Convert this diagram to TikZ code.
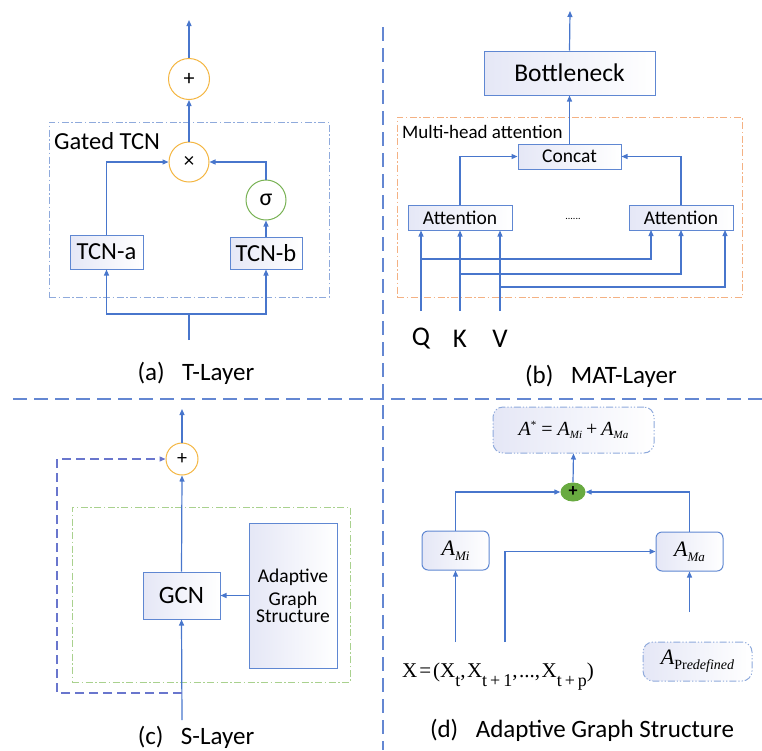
\documentclass[tikz,border=0pt]{standalone}
\usepackage{fontspec}
\setmainfont{Carlito}
\newfontfamily\tms{Liberation Serif}
\usetikzlibrary{arrows.meta,shapes.geometric}
\definecolor{lineblue}{RGB}{72,118,204}
\definecolor{boxblue}{RGB}{95,135,210}
\definecolor{boxfill}{RGB}{229,231,246}
\definecolor{circorange}{RGB}{244,182,66}
\definecolor{circgreen}{RGB}{120,178,84}
\definecolor{dashblue}{RGB}{143,170,220}
\definecolor{dashorange}{RGB}{244,177,131}
\definecolor{dashgreen}{RGB}{169,209,142}
\definecolor{sepblue}{RGB}{100,135,210}
\definecolor{fbblue}{RGB}{105,118,205}
\definecolor{gfill}{RGB}{104,170,64}
\newcommand\fsz[1]{\fontsize{#1}{#1}\selectfont}
\tikzset{
  x=1pt,y=-1pt,
  conn/.style={draw=lineblue, line width=1.2pt, -{Triangle[length=6pt,width=5pt]}},
  plainline/.style={draw=lineblue, line width=1.2pt},
  boxnode/.style={draw=boxblue, line width=1pt, left color=boxfill, right color=white, inner sep=0pt, align=center},
  rboxnode/.style={boxnode, rounded corners=6pt},
  ocirc/.style={circle, draw=circorange, line width=1pt, fill=white, inner sep=0pt},
  gcirc/.style={circle, draw=circgreen, line width=1pt, fill=white, inner sep=0pt},
  dd/.style={dash pattern=on 7pt off 2.5pt on 1.5pt off 2.5pt},
  ddd/.style={dash pattern=on 7pt off 2pt on 1.2pt off 2pt on 1.2pt off 2pt},
  sepline/.style={draw=sepblue, line width=1.2pt, dash pattern=on 14pt off 7pt},
  captxt/.style={font=\fsz{25}},
}
\begin{document}
\begin{tikzpicture}
\useasboundingbox (0,0) rectangle (762,750);
% separators
\coordinate (vt) at (383,27);
\coordinate (vb) at (383,750);
\coordinate (hl) at (13,399);
\coordinate (hr) at (762,399);
\draw[sepline] (vt) -- (vb);
\draw[sepline] (hl) -- (hr);

% ---------- (a) T-Layer
\node[draw=dashblue, line width=1pt, dd, minimum width=280, minimum height=175, inner sep=0pt] (gated) at (189,209.5) {};
\node[anchor=west, font=\fsz{24.5}, inner sep=0pt] (gatedlbl) at (54,141) {Gated TCN};
\node[ocirc, minimum size=41, font=\fsz{22}] (pa) at (189,79) {+};
\node[ocirc, minimum size=40, font=\fsz{21}] (times) at (189,162) {×};
\node[gcirc, minimum size=40, font=\fsz{24}] (sig) at (266,200) {σ};
\node[boxnode, minimum width=73, minimum height=34, font=\fsz{24.5}] (tcna) at (106.5,252) {TCN-a};
\node[boxnode, minimum width=72, minimum height=32, font=\fsz{24.5}] (tcnb) at (266,253) {TCN-b};
\coordinate (aout) at (189,20);
\coordinate (ain) at (189,340);
\coordinate (asplit) at (189,314);
\draw[conn] (pa.north) -- (aout);
\draw[conn] (times.north) -- (pa.south);
\draw[conn] (tcna.north) |- (times.west);
\draw[conn] (sig.north) |- (times.east);
\draw[conn] (tcnb.north) -- (sig.south);
\draw[plainline] (ain) -- (asplit);
\draw[conn] (asplit) -| (tcna.south);
\draw[conn] (asplit) -| (tcnb.south);
\node[captxt] (capa) at (196,373) {(a)\hspace{0.7em}T-Layer};

% ---------- (b) MAT-Layer
\node[draw=dashorange, line width=1pt, dd, minimum width=345, minimum height=180, inner sep=0pt] (mha) at (569.5,207) {};
\node[anchor=west, font=\fsz{19}, inner sep=0pt] (mhalbl) at (402,132) {Multi-head attention};
\node[boxnode, minimum width=171, minimum height=44, font=\fsz{25.5}] (bott) at (569.5,73) {Bottleneck};
\node[boxnode, minimum width=103, minimum height=25, font=\fsz{19.5}] (concat) at (569.5,156.5) {Concat};
\node[boxnode, minimum width=104, minimum height=25, font=\fsz{19.5}] (att1) at (460,217.5) {Attention};
\node[boxnode, minimum width=104, minimum height=25, font=\fsz{19.5}] (att2) at (681,217.5) {Attention};
\node[font=\fsz{10}, inner sep=0pt] (dots) at (573,219) {......};
\node[font=\fsz{27}, inner sep=0pt] (q) at (421,339) {Q};
\node[font=\fsz{27}, inner sep=0pt] (k) at (460,339) {K};
\node[font=\fsz{27}, inner sep=0pt] (v) at (500,339) {V};
\coordinate (bout) at (570,11);
\coordinate (qb) at (421,311);
\coordinate (kb) at (460,311);
\coordinate (vb2) at (500,311);
\coordinate (qj) at (421,259);
\coordinate (kj) at (460,274);
\coordinate (vj) at (500,287);
\coordinate (qa2) at (651,230);
\coordinate (ka2) at (681,230);
\coordinate (va2) at (725,230);
\draw[conn] (bott.north) -- (bout);
\draw[conn] (concat.north) -- (bott.south);
\draw[conn] (att1.north) |- (concat.west);
\draw[conn] (att2.north) |- (concat.east);
\draw[conn] (qb) -- (qb |- att1.south);
\draw[conn] (kb) -- (kb |- att1.south);
\draw[conn] (vb2) -- (vb2 |- att1.south);
\draw[conn] (qj) -| (qa2);
\draw[conn] (kj) -| (ka2);
\draw[conn] (vj) -| (va2);
\node[captxt] (capb) at (601,376) {(b)\hspace{0.7em}MAT-Layer};

% ---------- (c) S-Layer
\node[draw=dashgreen, line width=1pt, dd, minimum width=278, minimum height=175, inner sep=0pt] (gbox) at (211,594.5) {};
\node[ocirc, minimum size=32, font=\fsz{20}] (cplus) at (182,459) {+};
\node[boxnode, minimum width=77, minimum height=47, font=\fsz{25}] (gcn) at (181.5,595.5) {GCN};
\node[boxnode, minimum width=88, minimum height=145, text width=86] (ags) at (293,595.5) {\fontsize{19.5}{23.5}\selectfont Adaptive\\Graph\\Structure};
\coordinate (cout) at (182,409);
\coordinate (cin) at (182,720);
\coordinate (fb) at (182,693);
\coordinate (fbc) at (57,693);
\draw[conn] (ags.west) -- (gcn.east);
\draw[conn] (cin) -- (gcn.south);
\draw[conn] (gcn.north) -- (cplus.south);
\draw[conn] (cplus.north) -- (cout);
\draw[conn, draw=fbblue, line width=1.3pt, dash pattern=on 9pt off 5pt] (fb) -- (fbc) |- (cplus.west);
\node[captxt] (capc) at (196,737) {(c)\hspace{0.7em}S-Layer};

% ---------- (d) Adaptive Graph Structure
\node[boxnode, draw=dashblue, rounded corners=10pt, ddd, minimum width=161, minimum height=46] (astar) at (573.5,430)
  {\tms\fsz{20}\textit{A}\raisebox{6.5pt}{\fsz{11}*}\hspace{5pt}=\hspace{5pt}\textit{A}\raisebox{-3.5pt}{\fsz{11}\textit{Mi}}\hspace{4pt}+\hspace{4pt}\textit{A}\raisebox{-3.5pt}{\fsz{11}\textit{Ma}}};
\node[ellipse, fill=gfill, minimum width=25, minimum height=19, inner sep=0pt, font=\fsz{18}\bfseries] (gplus) at (573,492) {+};
\node[rboxnode, minimum width=67, minimum height=39] (ami) at (455.5,550.5) {\tms\fsz{22}\textit{A}\raisebox{-5pt}{\fsz{13}\textit{Mi}}};
\node[rboxnode, minimum width=67, minimum height=39] (ama) at (689.5,551.5) {\tms\fsz{22}\textit{A}\raisebox{-5pt}{\fsz{13}\textit{Ma}}};
\node[boxnode, draw=dashblue, rounded corners=10pt, ddd, minimum width=109, minimum height=39] (apred) at (697.5,661.5) {\tms\fsz{22}\textit{A}\raisebox{-5pt}{\fsz{14}Pr\textit{edefined}}};
\node[inner sep=0pt] (xf) at (498,677) {\tms\fsz{21}X\hspace{2pt}=\hspace{2pt}(X\raisebox{-9pt}{\fsz{18}t},\hspace{1.5pt}X\raisebox{-9pt}{\fsz{18}t\hspace{3pt}+\hspace{3pt}1},\hspace{1.5pt}...,\hspace{1.5pt}X\raisebox{-9pt}{\fsz{18}t\hspace{3pt}+\hspace{3pt}p})};
\coordinate (x1) at (455.5,642);
\coordinate (x2) at (505,642);
\coordinate (pr) at (689.5,612);
\draw[conn] (gplus.north) -- (astar.south);
\draw[conn] (ami.north) |- (gplus.west);
\draw[conn] (ama.north) |- (gplus.east);
\draw[conn] (x1) -- (ami.south);
\draw[conn] (x2) |- (ama.west);
\draw[conn] (pr) -- (ama.south);
\node[captxt] (capd) at (582,730) {(d)\hspace{0.7em}Adaptive Graph Structure};
\end{tikzpicture}
\end{document}
